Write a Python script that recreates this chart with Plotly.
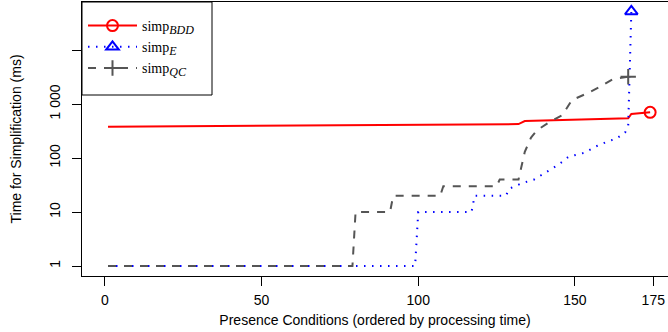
import plotly.graph_objects as go

# Vertices of each sorted-time series (x = rank of presence condition, y = ms)
bdd_x = [1, 59, 132, 134, 167, 168, 174]
bdd_y = [380, 403, 425, 484, 543, 653, 702]

e_x = [1, 99, 100, 117, 118, 128, 129, 133, 137, 141, 145, 148, 153, 157, 161, 163, 166, 167, 168]
e_y = [1, 1, 10, 10, 20, 20, 27, 34, 40, 56, 77, 106, 125, 167, 209, 225, 295, 400, 52000]

qc_x = [1, 79, 80, 91, 92, 107, 108, 125, 126, 132, 134, 136, 138, 142, 146, 149, 154, 158, 162, 167]
qc_y = [1, 1, 10, 10, 20, 20, 30, 30, 40, 40, 130, 240, 330, 470, 625, 1180, 1590, 2090, 2870, 3200]

x_ticks = [0, 50, 100, 150, 175]
y_ticks = [1, 10, 100, 1000, 10000]
y_tick_text = ["1", "10", "100", "1 000", ""]


def sub_label(base, sub):
    return f'{base}<sub><span style="font-size:12px"><i>{sub}</i></span></sub>'


series = [
    dict(name=sub_label("simp", "BDD"), x=bdd_x, y=bdd_y, color="#ff0000",
         dash="solid", width=2, symbol="circle-open"),
    dict(name=sub_label("simp", "E"), x=e_x, y=e_y, color="#0000ff",
         dash="1.5px,6.5px", width=2, symbol="triangle-up-open"),
    dict(name=sub_label("simp", "QC"), x=qc_x, y=qc_y, color="#555555",
         dash="8px,8px", width=2, symbol="cross-thin-open"),
]

W, H = 668, 332
ML, MR, MT, MB = 82, 0, 2, 56
PW, PH = W - ML - MR, H - MT - MB

fig = go.Figure()
for s in series:
    fig.add_trace(go.Scatter(
        x=s["x"], y=s["y"], mode="lines", showlegend=False,
        line=dict(color=s["color"], width=s["width"], dash=s["dash"]),
        hoverinfo="skip"))
    fig.add_trace(go.Scatter(
        x=s["x"][-1:], y=s["y"][-1:], mode="lines+markers", name=s["name"],
        line=dict(color=s["color"], width=s["width"], dash=s["dash"]),
        marker=dict(symbol=s["symbol"], size=11, color=s["color"],
                    line=dict(color=s["color"], width=2))))

axis_font = dict(family="Liberation Sans, Arial, sans-serif", size=14, color="black")


def px_x(p):
    return (p - ML) / PW


def px_y(p):
    return 1 - (p - MT) / PH


# legend box (white, opaque, black border)
fig.add_shape(type="rect", xref="paper", yref="paper",
              x0=px_x(82), x1=px_x(212), y0=px_y(95), y1=px_y(2),
              line=dict(color="black", width=1), fillcolor="white", layer="above")

fig.update_layout(
    width=W, height=H,
    margin=dict(l=ML, r=MR, t=MT, b=MB),
    paper_bgcolor="white", plot_bgcolor="white",
    showlegend=True,
    legend=dict(x=px_x(83), y=px_y(10), xanchor="left", yanchor="top",
                bgcolor="rgba(0,0,0,0)", borderwidth=0,
                font=dict(family="Liberation Serif, Times New Roman, serif", size=14, color="black"),
                itemwidth=49),
    xaxis=dict(range=[-7.3, 179.7], tickvals=x_ticks, ticktext=[str(v) for v in x_ticks],
               showgrid=False, zeroline=False, showline=True, linecolor="black", linewidth=1,
               mirror=True, ticks="outside", ticklen=9, tickcolor="black",
               tickfont=axis_font, automargin=False, ticklabelstandoff=2,
               title=dict(text="Presence Conditions (ordered by processing time)",
                          font=axis_font, standoff=8)),
    yaxis=dict(type="log", range=[-0.185, 4.89], tickvals=y_ticks, ticktext=y_tick_text,
               showgrid=False, zeroline=False, showline=True, linecolor="black", linewidth=1,
               ticks="outside", ticklen=9, tickcolor="black", tickangle=-90,
               tickfont=axis_font, automargin=False, ticklabelstandoff=6,
               title=dict(text="Time for Simplification (ms)", font=axis_font, standoff=22)),
)

fig.write_html("out.html", post_script="document.body.style.margin='0';",
               config={"displayModeBar": False})
